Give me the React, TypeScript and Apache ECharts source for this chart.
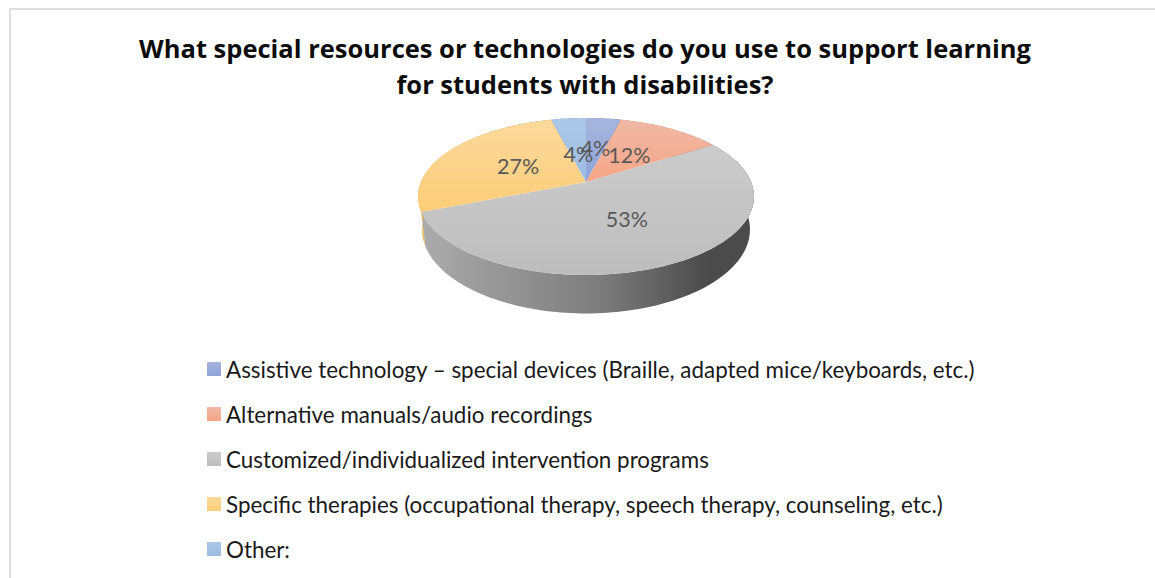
import React, { useEffect, useRef } from "react";
import * as echarts from "echarts";

const titleText =
  "What special resources or technologies do you use to support learning\nfor students with disabilities?";
const categories = [
  "Assistive technology – special devices (Braille, adapted mice/keyboards, etc.)",
  "Alternative manuals/audio recordings",
  "Customized/individualized intervention programs",
  "Specific therapies (occupational therapy, speech therapy, counseling, etc.)",
  "Other:",
];
const shares = [4, 12, 53, 27, 4];
const labelRadii = [0.5, 0.48, 0.5, 0.48, 0.4];
const faceTop = ["#a6b5de", "#f0b9a6", "#cccccc", "#fbd99c", "#abc8e7"];
const faceBottom = ["#8ea3d8", "#f7a585", "#bdbdbd", "#fdcd78", "#9cbce2"];
const wallLight = ["#7f8db5", "#c08a70", "#ababab", "#e8b75c", "#7f9cc0"];
const wallDark = ["#56617f", "#8a6250", "#4b4b4b", "#a87f38", "#5a7394"];

// Tilted disc: a unit circle seen in perspective, angle clockwise from 12 o'clock.
const CX = 586;
const APEX_Y = 182;
const RX = 165.1;
const RY = 75.8;
const TILT = 0.1847;
const RIM_Y = 197;
const BASE_Y = 230;
const BASE_SCALE_X = 0.976;
const BASE_SCALE_Y = 1.07;

const project = (deg: number, r = 1): [number, number] => {
  const a = (deg * Math.PI) / 180;
  const u = r * Math.sin(a);
  const v = r * Math.cos(a);
  const d = 1 + TILT * v;
  return [CX + (RX * u) / d, APEX_Y - (RY * v) / d];
};
const toBase = ([x, y]: [number, number]): [number, number] => [
  CX + (x - CX) * BASE_SCALE_X,
  BASE_Y + (y - RIM_Y) * BASE_SCALE_Y,
];
const arcPoints = (from: number, to: number) => {
  const n = Math.max(2, Math.ceil((to - from) / 1.5));
  const pts: [number, number][] = [];
  for (let i = 0; i <= n; i++) pts.push(project(from + ((to - from) * i) / n));
  return pts;
};

const total = shares.reduce((s, v) => s + v, 0);
const startShare = (i: number) => shares.slice(0, i).reduce((s, v) => s + v, 0);

const vertical = (a: string, b: string) => ({
  type: "linear" as const,
  x: 0,
  y: 0,
  x2: 0,
  y2: 1,
  colorStops: [
    { offset: 0, color: a },
    { offset: 1, color: b },
  ],
});
const horizontal = (a: string, mid: string, b: string) => ({
  type: "linear" as const,
  x: 0,
  y: 0,
  x2: 1,
  y2: 0,
  colorStops: [
    { offset: 0, color: a },
    { offset: 0.55, color: mid },
    { offset: 0.86, color: b },
    { offset: 1, color: b },
  ],
});
const mix = (a: string, b: string) => {
  const p = (c: string, i: number) => parseInt(c.slice(i, i + 2), 16);
  const h = (i: number) =>
    Math.round((p(a, i) + p(b, i)) / 2)
      .toString(16)
      .padStart(2, "0");
  return `#${h(1)}${h(3)}${h(5)}`;
};

const sliceSeries = (name: string, i: number) => ({
  type: "custom",
  name,
  coordinateSystem: "none",
  silent: true,
  itemStyle: { color: vertical(faceTop[i], faceBottom[i]) },
  data: [[shares[i]]],
  renderItem: (_: unknown, api: any) => {
    const value = api.value(0) as number;
    const from = (startShare(i) / total) * 360;
    const to = from + (value / total) * 360;
    const rim = arcPoints(from, to);
    const mid = (from + to) / 2;
    const [lx, ly] = project(mid, labelRadii[i]);
    return {
      type: "group",
      children: [
        {
          type: "polygon",
          z2: 1,
          shape: { points: [...rim, ...rim.map(toBase).reverse()] },
          style: { fill: horizontal(wallLight[i], mix(wallLight[i], wallDark[i]), wallDark[i]) },
        },
        {
          type: "polygon",
          z2: 10,
          shape: { points: [[CX, APEX_Y], ...rim] },
          style: { fill: vertical(faceTop[i], faceBottom[i]) },
        },
        {
          type: "text",
          z2: 20,
          style: {
            x: lx,
            y: ly,
            text: `${value}%`,
            fill: "#595959",
            font: '21.5px Lato, "Open Sans", sans-serif',
            align: "center",
            verticalAlign: "middle",
          },
        },
      ],
    };
  },
});

export default function App() {
  const ref = useRef<HTMLDivElement>(null);

  useEffect(() => {
    const chart = echarts.init(ref.current!, undefined, { renderer: "svg" });
    chart.setOption({
      animation: false,
      backgroundColor: "#ffffff",
      title: {
        text: titleText,
        left: 580,
        top: 25,
        textAlign: "center",
        textStyle: {
          fontFamily: '"Open Sans", sans-serif',
          fontWeight: 700,
          fontSize: 25.5,
          lineHeight: 36,
          color: "#0d0d0d",
        },
      },
      legend: {
        orient: "vertical",
        left: 202,
        top: 353,
        icon: "rect",
        itemWidth: 14,
        itemHeight: 14,
        itemGap: 23,
        selectedMode: false,
        textStyle: {
          fontFamily: "Lato, sans-serif",
          fontSize: 22.4,
          lineHeight: 22,
          color: "#1a1a1a",
          padding: [0, 0, 0, 0],
        },
        data: categories.map((name, i) => ({
          name,
          itemStyle: { color: vertical(faceTop[i], faceBottom[i]) },
        })),
      },
      graphic: [
        {
          type: "rect",
          silent: true,
          shape: { x: 9, y: 8, width: 1146, height: 2 },
          style: { fill: "#dedede" },
        },
        {
          type: "rect",
          silent: true,
          shape: { x: 9, y: 8, width: 2, height: 570 },
          style: { fill: "#dedede" },
        },
      ],
      series: categories.map(sliceSeries),
    });
    return () => chart.dispose();
  }, []);

  return <div ref={ref} style={{ position: "fixed", left: 0, top: 0, width: 1155, height: 578 }} />;
}
